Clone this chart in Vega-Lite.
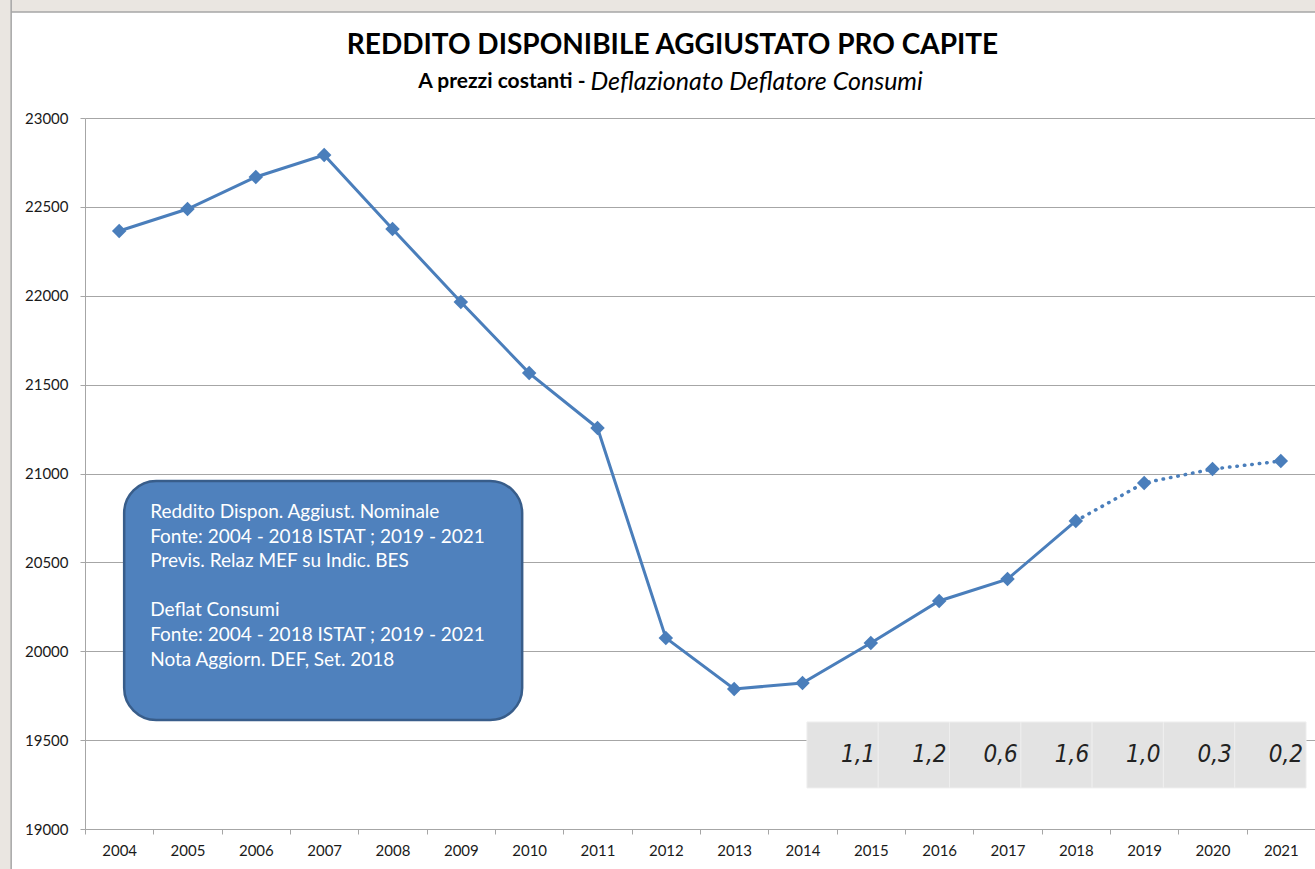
{
  "$schema": "https://vega.github.io/schema/vega-lite/v6.json",
  "width": 1230,
  "height": 711,
  "autosize": {"type": "none"},
  "padding": {"left": 85, "top": 118, "right": 0, "bottom": 40},
  "background": "white",
  "config": {"view": {"stroke": null}, "font": "Lato"},
  "datasets": {
    "serie": [
      {"year": 2004, "value": 22364},
      {"year": 2005, "value": 22488},
      {"year": 2006, "value": 22668},
      {"year": 2007, "value": 22792},
      {"year": 2008, "value": 22376},
      {"year": 2009, "value": 21965},
      {"year": 2010, "value": 21565},
      {"year": 2011, "value": 21256},
      {"year": 2012, "value": 20075},
      {"year": 2013, "value": 19788},
      {"year": 2014, "value": 19821},
      {"year": 2015, "value": 20046},
      {"year": 2016, "value": 20283},
      {"year": 2017, "value": 20406},
      {"year": 2018, "value": 20733},
      {"year": 2019, "value": 20947},
      {"year": 2020, "value": 21025},
      {"year": 2021, "value": 21070}
    ],
    "tabella": [
      {"year": 2015, "v": "1,1"},
      {"year": 2016, "v": "1,2"},
      {"year": 2017, "v": "0,6"},
      {"year": 2018, "v": "1,6"},
      {"year": 2019, "v": "1,0"},
      {"year": 2020, "v": "0,3"},
      {"year": 2021, "v": "0,2"}
    ]
  },
  "layer": [
    {
      "data": {"name": "serie"},
      "encoding": {
        "x": {
          "field": "year",
          "type": "ordinal",
          "scale": {
            "type": "band",
            "domain": [2004, 2005, 2006, 2007, 2008, 2009, 2010, 2011, 2012, 2013, 2014, 2015, 2016, 2017, 2018, 2019, 2020, 2021],
            "paddingInner": 0,
            "paddingOuter": 0
          },
          "axis": {
            "title": null,
            "tickBand": "extent",
            "labelAngle": 0,
            "tickSize": 5,
            "tickColor": "#A6A6A6",
            "domainColor": "#A6A6A6",
            "labelFont": "Lato",
            "labelFontSize": 15,
            "labelColor": "#1a1a1a",
            "labelPadding": 9,
            "grid": false,
            "labelOverlap": false
          }
        },
        "y": {
          "field": "value",
          "type": "quantitative",
          "scale": {"domain": [19000, 23000], "zero": false, "nice": false},
          "axis": {
            "title": null,
            "values": [19000, 19500, 20000, 20500, 21000, 21500, 22000, 22500, 23000],
            "format": "d",
            "grid": true,
            "gridColor": "#A6A6A6",
            "domainColor": "#A6A6A6",
            "tickColor": "#A6A6A6",
            "tickSize": 5,
            "labelFont": "Lato",
            "labelFontSize": 15,
            "labelColor": "#1a1a1a",
            "labelPadding": 12
          }
        }
      },
      "layer": [
        {
          "transform": [{"filter": "datum.year == 2004"}],
          "mark": {"type": "rect", "fill": "#EAE6E1", "stroke": "#A6A6A6", "strokeWidth": 1.5, "width": 1335, "xOffset": 538.5, "yOffset": -128, "y2Offset": -106},
          "encoding": {
            "y": {"datum": 23000, "type": "quantitative"},
            "y2": {"datum": 23000}
          }
        },
        {
          "transform": [{"filter": "datum.year == 2004"}],
          "mark": {"type": "rect", "fill": "#EAE6E1", "stroke": "#A6A6A6", "strokeWidth": 1.5, "width": 21, "xOffset": -118.5, "yOffset": -128, "y2Offset": 51},
          "encoding": {
            "y": {"datum": 23000, "type": "quantitative"},
            "y2": {"datum": 19000}
          }
        },
        {
          "transform": [{"filter": "datum.year == 2011"}],
          "mark": {"type": "text", "text": "REDDITO DISPONIBILE AGGIUSTATO PRO CAPITE", "font": "Lato", "fontSize": 28, "fontWeight": "bold", "color": "black", "align": "center", "baseline": "middle", "dx": 75, "dy": -72},
          "encoding": {
            "y": {"datum": 23000, "type": "quantitative"}
          }
        },
        {
          "transform": [{"filter": "datum.year == 2011"}],
          "mark": {"type": "text", "text": "A prezzi costanti -", "font": "Lato", "fontSize": 21, "fontWeight": "bold", "color": "black", "align": "right", "baseline": "middle", "dx": -12, "dy": -36},
          "encoding": {
            "y": {"datum": 23000, "type": "quantitative"}
          }
        },
        {
          "transform": [{"filter": "datum.year == 2011"}],
          "mark": {"type": "text", "text": "Deflazionato Deflatore Consumi", "font": "Lato", "fontSize": 25, "fontStyle": "italic", "color": "black", "align": "left", "baseline": "middle", "dx": -7, "dy": -36},
          "encoding": {
            "y": {"datum": 23000, "type": "quantitative"}
          }
        },
        {
          "transform": [{"filter": "datum.year == 2004"}],
          "mark": {"type": "rect", "fill": "#4F81BD", "stroke": "#385D8A", "strokeWidth": 2.5, "cornerRadius": 32, "width": 398, "xOffset": 204},
          "encoding": {
            "y": {"datum": 20958, "type": "quantitative"},
            "y2": {"datum": 19613}
          }
        },
        {
          "transform": [{"filter": "datum.year == 2004"}],
          "mark": {
            "type": "text",
            "text": "Reddito Dispon. Aggiust. Nominale\nFonte: 2004 - 2018 ISTAT ; 2019 - 2021\nPrevis. Relaz MEF su Indic. BES",
            "lineBreak": "\n",
            "lineHeight": 24.6,
            "font": "Lato",
            "fontSize": 19,
            "color": "white",
            "align": "left",
            "baseline": "top",
            "dx": 31
          },
          "encoding": {
            "y": {"datum": 20834, "type": "quantitative"}
          }
        },
        {
          "transform": [{"filter": "datum.year == 2004"}],
          "mark": {
            "type": "text",
            "text": "Deflat Consumi\nFonte: 2004 - 2018 ISTAT ; 2019 - 2021\nNota Aggiorn. DEF, Set. 2018",
            "lineBreak": "\n",
            "lineHeight": 24.6,
            "font": "Lato",
            "fontSize": 19,
            "color": "white",
            "align": "left",
            "baseline": "top",
            "dx": 31
          },
          "encoding": {
            "y": {"datum": 20280, "type": "quantitative"}
          }
        },
        {
          "transform": [{"filter": "datum.year <= 2018"}],
          "mark": {"type": "line", "color": "#4A7EBB", "strokeWidth": 3}
        },
        {
          "transform": [{"filter": "datum.year >= 2018"}],
          "mark": {"type": "line", "color": "#4A7EBB", "strokeWidth": 3.5, "strokeDash": [0.5, 7], "strokeCap": "round"}
        },
        {
          "mark": {"type": "point", "shape": "diamond", "filled": true, "size": 210, "color": "#4A7EBB", "opacity": 1}
        }
      ]
    },
    {
      "data": {"name": "tabella"},
      "encoding": {
        "x": {
          "field": "year",
          "type": "ordinal",
          "scale": {
            "type": "band",
            "domain": [2005, 2006, 2007, 2008, 2009, 2010, 2011, 2012, 2013, 2014, 2015, 2016, 2017, 2018, 2019, 2020, 2021],
            "paddingInner": 0,
            "paddingOuter": 0.126
          },
          "axis": null
        }
      },
      "layer": [
        {
          "mark": {"type": "rect", "fill": "#E3E3E3", "stroke": "#EEEEEE", "strokeWidth": 1},
          "encoding": {
            "y": {"datum": 19602, "type": "quantitative"},
            "y2": {"datum": 19231}
          }
        },
        {
          "mark": {"type": "text", "align": "right", "baseline": "middle", "dx": -3, "font": "DejaVu Sans Condensed, Liberation Sans Narrow, Roboto Condensed, Liberation Sans, sans-serif", "fontStyle": "italic", "fontSize": 24, "color": "#222222"},
          "encoding": {
            "x": {"field": "year", "type": "ordinal", "bandPosition": 1},
            "y": {"datum": 19416, "type": "quantitative"},
            "text": {"field": "v", "type": "nominal"}
          }
        }
      ]
    }
  ],
  "resolve": {"scale": {"x": "independent"}}
}
